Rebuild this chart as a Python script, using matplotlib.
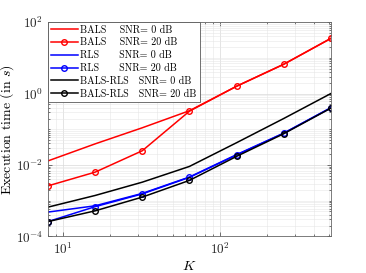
import matplotlib
matplotlib.use("Agg")
import matplotlib.pyplot as plt
from matplotlib.ticker import LogLocator, NullFormatter

plt.rcParams['font.family'] = 'serif'
plt.rcParams['font.serif'] = ['cmr10']
plt.rcParams['mathtext.fontset'] = 'cm'
plt.rcParams['axes.formatter.use_mathtext'] = True

# datos
K = [8, 16, 32, 64, 128, 256, 512]
bals_0 = [0.013, 0.039, 0.11, 0.33, 1.6, 6.6, 35]
bals_20 = [0.0026, 0.0063, 0.025, 0.32, 1.6, 6.6, 35]
rls_0 = [4.8e-4, 7.2e-4, 1.6e-3, 4.6e-3, 0.0195, 0.078, 0.40]
rls_20 = [2.6e-4, 6.8e-4, 1.55e-3, 4.5e-3, 0.019, 0.077, 0.40]
balsrls_0 = [6.6e-4, 1.4e-3, 3.3e-3, 9.1e-3, 0.042, 0.2, 1.0]
balsrls_20 = [2.6e-4, 5.2e-4, 1.26e-3, 3.7e-3, 0.0174, 0.075, 0.39]

etiquetas = ['BALS    SNR= 0 dB', 'BALS    SNR= 20 dB',
             'RLS      SNR= 0 dB', 'RLS      SNR= 20 dB',
             'BALS-RLS   SNR= 0 dB', 'BALS-RLS   SNR= 20 dB']

fig = plt.figure(figsize=(3.66, 2.73), dpi=100)
ax = fig.add_axes([0.131, 0.134, 0.773, 0.785])

lw = 1.1
ax.plot(K, bals_0, color='red', lw=lw, label=etiquetas[0])
ax.plot(K, bals_20, color='red', lw=lw, marker='o', ms=4, mfc='none', mew=1, label=etiquetas[1])
ax.plot(K, rls_0, color='blue', lw=lw, label=etiquetas[2])
ax.plot(K, rls_20, color='blue', lw=lw, marker='o', ms=4, mfc='none', mew=1, label=etiquetas[3])
ax.plot(K, balsrls_0, color='black', lw=lw, label=etiquetas[4])
ax.plot(K, balsrls_20, color='black', lw=lw, marker='o', ms=4, mfc='none', mew=1, label=etiquetas[5])

ax.set_xscale('log')
ax.set_yscale('log')
ax.set_xlim(8, 512)
ax.set_ylim(1e-4, 1e2)
ax.set_yticks([1e-4, 1e-2, 1e0, 1e2])
ax.yaxis.set_minor_locator(LogLocator(base=10, subs=[1, 2, 3, 4, 5, 6, 7, 8, 9], numticks=50))
ax.yaxis.set_minor_formatter(NullFormatter())
ax.xaxis.set_minor_locator(LogLocator(base=10, subs=[2, 3, 4, 5, 6, 7, 8, 9], numticks=50))
ax.xaxis.set_minor_formatter(NullFormatter())

ax.grid(True, which='major', color='0.85', lw=0.5)
ax.grid(True, which='minor', color='0.9', lw=0.4)
ax.set_axisbelow(True)
ax.tick_params(which='both', direction='in', top=True, right=True, colors='0.25', labelcolor='0.15', labelsize=9.5)
ax.tick_params(which='major', length=3, width=0.5)
ax.tick_params(which='minor', length=1.5, width=0.5)
for s in ax.spines.values():
    s.set_color('0.4')
    s.set_linewidth(0.6)

ax.set_xlabel('$K$', fontsize=10, labelpad=2)
ax.set_ylabel('Execution time (in $s$)', fontsize=10)
ax.yaxis.set_label_coords(-0.112, 0.5)

leg = ax.legend(loc='upper left', borderaxespad=0, fontsize=7.2, handlelength=2.7,
                fancybox=False, edgecolor='0.35', framealpha=1, labelspacing=0.33,
                handletextpad=0.25, borderpad=0.3)
leg.get_frame().set_linewidth(0.6)

fig.savefig('out.png', dpi=100)
